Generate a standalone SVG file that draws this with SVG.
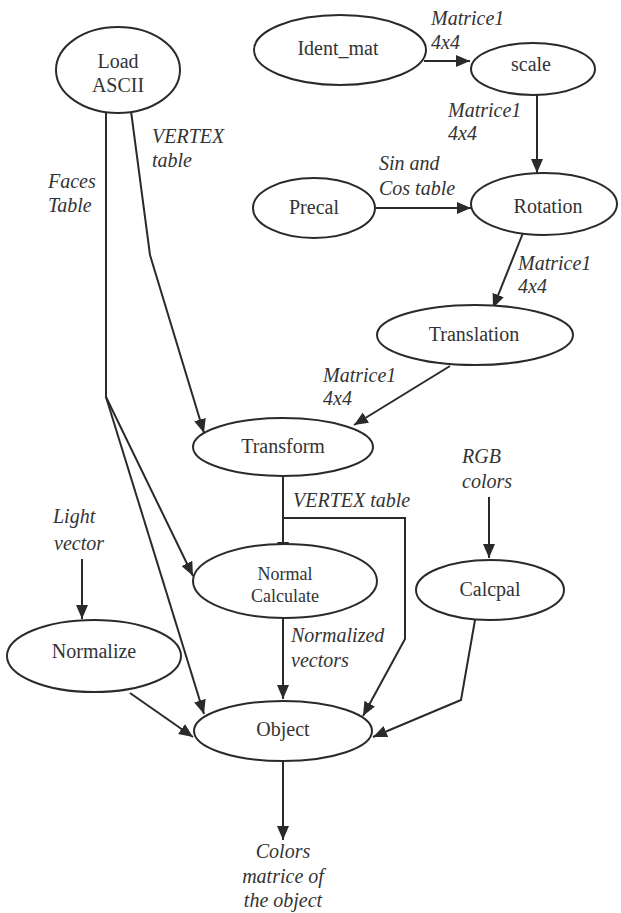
<svg xmlns="http://www.w3.org/2000/svg" width="621" height="913" viewBox="0 0 621 913">
<defs>
<marker id="ah" markerUnits="userSpaceOnUse" markerWidth="16" markerHeight="14" refX="14" refY="6" orient="auto">
<path d="M0,0 L14,6 L0,12 z" fill="#2a2a2a"/>
</marker>
<style>
.n ellipse{fill:#fff;stroke:#2a2a2a;stroke-width:2}
.n text{font-family:'Liberation Serif','DejaVu Serif',serif;font-size:20px;fill:#333;text-anchor:middle}
.c path{fill:none;stroke:#2a2a2a;stroke-width:2}
.l text{font-family:'Liberation Serif','DejaVu Serif',serif;font-size:20px;font-style:italic;fill:#333}
</style>
</defs>
<rect width="621" height="913" fill="#fff"/>
<g class="c">
<path d="M424,61 L470,61" marker-end="url(#ah)"/>
<path d="M537,95 L537,173" marker-end="url(#ah)"/>
<path d="M376,208 L471,208" marker-end="url(#ah)"/>
<path d="M523,233 L493,308" marker-end="url(#ah)"/>
<path d="M450,366 L354,425" marker-end="url(#ah)"/>
<path d="M131,111 L150,255 L204,433" marker-end="url(#ah)"/>
<path d="M106,111 L106,397 L193,576" marker-end="url(#ah)"/>
<path d="M106,397 L204,714" marker-end="url(#ah)"/>
<path d="M283,476 L283,556" marker-end="url(#ah)"/>
<path d="M283,518 L405,518 L405,639 L363,716" marker-end="url(#ah)"/>
<path d="M283,618 L283,699" marker-end="url(#ah)"/>
<path d="M82,559 L82,619" marker-end="url(#ah)"/>
<path d="M130,693 L193,737" marker-end="url(#ah)"/>
<path d="M489,497 L489,558" marker-end="url(#ah)"/>
<path d="M475,620 L461,700 L373,737" marker-end="url(#ah)"/>
<path d="M283,760 L283,840" marker-end="url(#ah)"/>
</g>
<g id="load" class="n"><ellipse cx="118" cy="70" rx="62" ry="43"/><text x="118" y="68">Load</text><text x="118" y="92">ASCII</text></g>
<g id="ident" class="n"><ellipse cx="340" cy="50" rx="86" ry="35"/><text x="338" y="55">Ident_mat</text></g>
<g id="scale" class="n"><ellipse cx="533" cy="69" rx="62" ry="26"/><text x="531" y="71">scale</text></g>
<g id="precal" class="n"><ellipse cx="314" cy="208" rx="61" ry="30"/><text x="314" y="214">Precal</text></g>
<g id="rotation" class="n"><ellipse cx="544" cy="204" rx="73" ry="31"/><text x="548" y="213">Rotation</text></g>
<g id="translation" class="n"><ellipse cx="475" cy="335" rx="98" ry="30"/><text x="474" y="341">Translation</text></g>
<g id="transform" class="n"><ellipse cx="283" cy="447" rx="90" ry="29"/><text x="283" y="453">Transform</text></g>
<g id="normalcalc" class="n"><ellipse cx="285" cy="581" rx="92" ry="37"/><text x="285" y="580" style="font-size:18px">Normal</text><text x="285" y="602" style="font-size:18px">Calculate</text></g>
<g id="calcpal" class="n"><ellipse cx="490" cy="590" rx="74" ry="30"/><text x="490" y="596">Calcpal</text></g>
<g id="normalize" class="n"><ellipse cx="94" cy="656" rx="87" ry="36"/><text x="94" y="658">Normalize</text></g>
<g id="object" class="n"><ellipse cx="283" cy="731" rx="89" ry="30"/><text x="283" y="736">Object</text></g>
<g class="l">
<text x="431" y="25">Matrice1</text><text x="431" y="49">4x4</text>
<text x="448" y="117">Matrice1</text><text x="448" y="140">4x4</text>
<text x="379" y="170">Sin and</text><text x="379" y="195">Cos table</text>
<text x="518" y="270">Matrice1</text><text x="518" y="293">4x4</text>
<text x="323" y="382">Matrice1</text><text x="323" y="405">4x4</text>
<text x="152" y="143">VERTEX</text><text x="152" y="167">table</text>
<text x="48" y="188">Faces</text><text x="48" y="212">Table</text>
<text x="293" y="507">VERTEX table</text>
<text x="53" y="523">Light</text><text x="54" y="550">vector</text>
<text x="462" y="463">RGB</text><text x="462" y="488">colors</text>
<text x="291" y="642">Normalized</text><text x="291" y="667">vectors</text>
<text x="283" y="858" text-anchor="middle">Colors</text>
<text x="283" y="883" text-anchor="middle">matrice of</text>
<text x="283" y="907" text-anchor="middle">the object</text>
</g>
</svg>
